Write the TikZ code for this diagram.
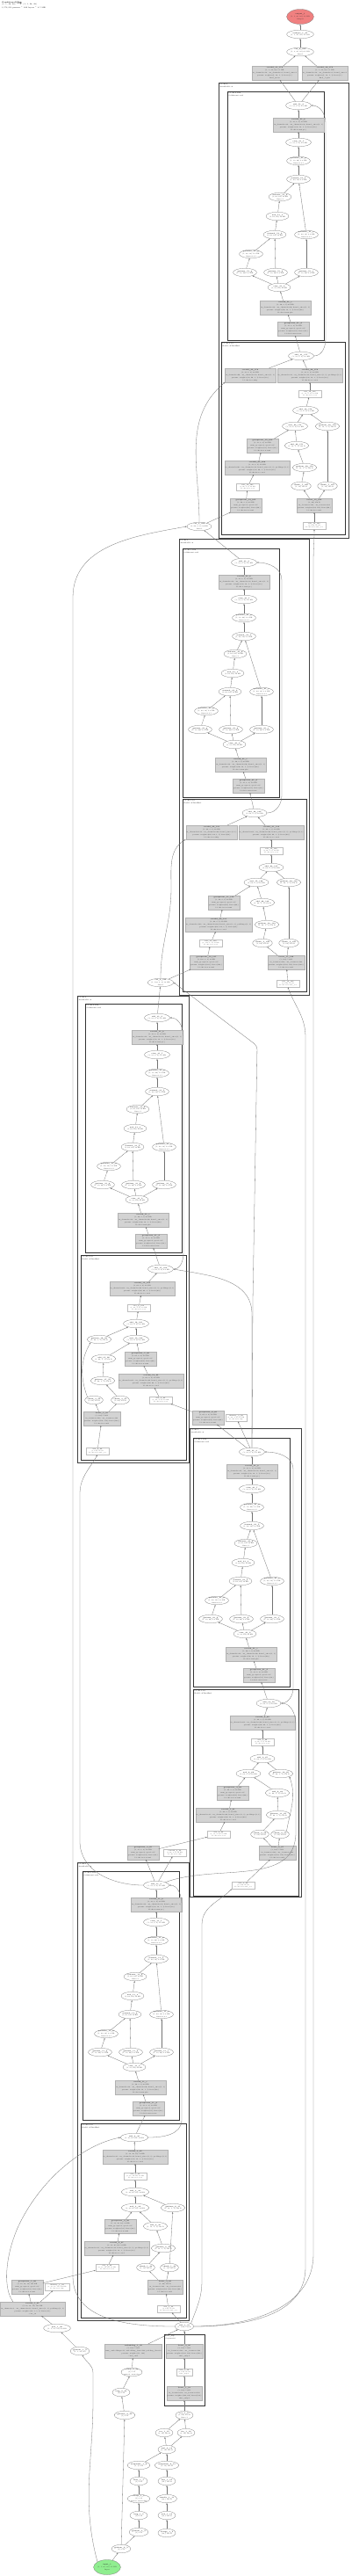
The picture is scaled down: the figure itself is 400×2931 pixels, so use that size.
\documentclass[tikz,border=0pt]{standalone}
\usepackage{fontspec}
\usepackage{amsmath}
\usetikzlibrary{arrows.meta,shapes.geometric,positioning,fit,backgrounds}
\definecolor{outred}{RGB}{240,128,128}
\definecolor{ingreen}{RGB}{144,238,144}
\definecolor{opgray}{RGB}{211,211,211}
\definecolor{edgegray}{RGB}{190,190,190}
\newcommand{\tny}{\fontsize{1.75}{2.6}\selectfont}
\newcommand{\tnyb}{\fontsize{1.7}{2.9}\selectfont}
\newcommand{\lbl}[2]{\textbf{#1}\\#2}
\newcommand{\lbk}[3]{\textbf{#1}\\#2\\#3}
\newcommand{\cvlbl}[5]{\textbf{#1}\\#2\\in\_channels=#3, out\_channels=#4, kernel\_size=(3, 3), padding=(1, 1)\\params: weight=(#4, #3, 3, 3) bias=(#4,)\\#5}
\newcommand{\sklbl}[5]{\textbf{#1}\\#2\\in\_channels=#3, out\_channels=#4, kernel\_size=(1, 1)\\params: weight=(#4, #3, 1, 1) bias=(#4,)\\#5}
\newcommand{\gnlbl}[4]{\textbf{#1}\\#2\\num\_groups=8, eps=1e-05\\params: weight=(#3,) bias=(#3,)\\#4}
\newcommand{\linlbl}[5]{\textbf{#1}\\#2\\in\_features=#3, out\_features=#4\\params: weight=(#4, #3) bias=(#4,)\\#5}

\tikzset{
  ell/.style={ellipse, draw=black!55, fill=white, line width=0.25pt, inner sep=0pt, minimum height=9.5pt, minimum width=20pt, align=center, font=\tny, text=black!85},
  opbox/.style={rectangle, draw=black!30, fill=opgray, line width=0.25pt, inner xsep=0.8pt, inner ysep=1.4pt, align=center, font=\tnyb, text=black!85},
  wbox/.style={rectangle, draw=edgegray, fill=white, line width=0.25pt, inner xsep=3pt, inner ysep=1.2pt, minimum width=26pt, align=center, font=\fontsize{1.6}{2.4}\selectfont, text=black!70},
  conn/.style={-{Stealth[length=2pt,width=1.5pt]}, draw=black!55, line width=0.3pt},
  clus/.style={draw=black!80, line width=0.55pt},
  outer/.style={draw=black!75, line width=1pt},
  clab/.style={anchor=north west, inner sep=0pt, align=left, font=\tny}
}

% self attention cluster: prefix, cluster left, add y, main column x, path, index
\newcommand{\attn}[6]{%
  \draw[clus] (#2,-#3+16) rectangle (#2+110,-#3-267);
  \node[clab] (#1lab) at (#2+1.5,-#3+15) {#5\\SelfAttention2d};
  \node[ell] (#1add) at (#4,-#3) {\lbl{add\_#6\_9}{(1, 32, 8, 8) 8.0 KB}};
  \node[opbox] (#1proj) at (#4,-#3-22) {\sklbl{conv2d\_#6\_8}{(1, 32, 8, 8) 8.0 KB}{32}{32}{#5.proj}};
  \node[ell] (#1view) at (#4,-#3-42) {\lbl{view\_#6\_7}{(1, 32, 8, 8) 8.0 KB}};
  \node[ell] (#1perm) at (#4,-#3-63) {\lbk{permute\_#6\_6}{(1, 32, 64) 8.0 KB}{dims=0,2,1}};
  \node[ell] (#1mm) at (#4,-#3-84) {\lbl{matmul\_#6\_5}{(1, 64, 32) 8.0 KB}};
  \node[ell] (#1soft) at (#2+60,-#3-104) {\lbk{softmax\_#6\_4}{(1, 64, 64) 16 KB}{dim=-1}};
  \node[ell] (#1mul) at (#2+57,-#3-126) {\lbl{mul\_#6\_3}{(1, 64, 64) 16 KB}};
  \node[ell] (#1mmb) at (#2+54,-#3-147) {\lbl{matmul\_#6\_2}{(1, 64, 64) 16 KB}};
  \node[ell] (#1pr) at (#2+90,-#3-147) {\lbk{permute\_#6\_1}{(1, 64, 32) 8.0 KB}{dims=0,2,1}};
  \node[ell] (#1pl) at (#2+27,-#3-169) {\lbk{permute\_#6\_0}{(1, 64, 32) 8.0 KB}{dims=0,2,1}};
  \node[ell] (#1gia) at (#2+20,-#3-190) {\lbl{getitem\_#6\_q}{(1, 32, 64) 8.0 KB}};
  \node[ell] (#1gib) at (#2+55,-#3-190) {\lbl{getitem\_#6\_k}{(1, 32, 64) 8.0 KB}};
  \node[ell] (#1gic) at (#2+90,-#3-190) {\lbl{getitem\_#6\_v}{(1, 32, 64) 8.0 KB}};
  \node[ell] (#1vw) at (#2+59,-#3-207) {\lbl{view\_#6\_b}{(3, 32, 64) 24 KB}};
  \node[opbox] (#1qkv) at (#2+66,-#3-230) {\sklbl{conv2d\_#6\_c}{(1, 96, 8, 8) 24 KB}{32}{96}{#5.qkv}};
  \node[opbox] (#1gn) at (#2+75,-#3-254) {\gnlbl{groupnorm\_#6\_d}{(1, 32, 8, 8) 8.0 KB}{32}{#5.norm}};
  \draw[conn] (#1gn) -- (#1qkv);
  \draw[conn] (#1qkv) -- (#1vw);
  \draw[conn] (#1vw) -- (#1gia);
  \draw[conn] (#1vw) -- (#1gib);
  \draw[conn] (#1vw) -- (#1gic);
  \draw[conn] (#1gia) -- (#1pl);
  \draw[conn] (#1pl) -- (#1mmb);
  \draw[conn] (#1gib) -- (#1mmb);
  \draw[conn] (#1mmb) -- (#1mul);
  \draw[conn] (#1mul) -- (#1soft);
  \draw[conn] (#1soft) -- (#1mm);
  \draw[conn] (#1gic) -- (#1pr);
  \draw[conn] (#1pr) -- (#1mm);
  \draw[conn] (#1mm) -- (#1perm);
  \draw[conn] (#1perm) -- (#1view);
  \draw[conn] (#1view) -- (#1proj);
  \draw[conn] (#1proj) -- (#1add);
}

\begin{document}
\begin{tikzpicture}[x=1pt,y=1pt]
\useasboundingbox (0,0) rectangle (400,-2931);

\node[clab, font=\fontsize{2}{2.6}\selectfont] (title) at (2,-1.5) {\textbf{ConditionalUNet}\\(1, 1, 28, 28) $\rightarrow$ (1, 1, 28, 28)\\1,172,353 params $\cdot$ 249 layers $\cdot$ 4.5 MB};

% output head
\node[ell, fill=outred, minimum width=28pt, minimum height=17pt] (outT) at (342,-19) {\lbk{output\_1}{(1, 1, 28, 28) 3.1 KB}{Output}};
\node[ell] (resh) at (342,-39) {\lbl{reshape\_1\_47}{(1, 1, 28, 28) 3.1 KB}};
\node[ell] (cat6) at (342,-59) {\lbk{cat\_6\_180}{(1, 2, 28, 28) 6.1 KB}{dim=1}};
\node[opbox] (convA) at (313,-83) {\textbf{conv2d\_31\_178}\\(1, 1, 28, 28) 3.1 KB\\in\_channels=32, out\_channels=1, kernel\_size=1\\params: weight=(1, 32, 1, 1) bias=(1,)\\final\_mean};
\node[opbox] (convB) at (370,-83) {\textbf{conv2d\_32\_179}\\(1, 1, 28, 28) 3.1 KB\\in\_channels=32, out\_channels=1, kernel\_size=1\\params: weight=(1, 32, 1, 1) bias=(1,)\\final\_logvar};

% block 4
\draw[outer] (249,-94) rectangle (397,-612);
\node[clab] (oAlab) at (250.5,-95) {blocks.4\\AttnResBlock};
\attn{a1}{259}{120}{340}{blocks.4.attn}{51}
\draw[clus] (252,-389) rectangle (393,-608);
\node[clab] (a2lab) at (253.5,-390) {blocks.4.res\\ResBlockTimeEmb};
\node[ell] (a2add) at (343,-405) {\lbl{add\_31\_177}{(1, 32, 8, 8) 8.0 KB}};
\node[opbox] (a2skip) at (285,-427) {\sklbl{conv2d\_29\_178}{(1, 32, 8, 8) 8.0 KB}{96}{32}{blocks.4.res.skip}};
\node[opbox] (a2cv2) at (353,-427) {\cvlbl{conv2d\_28\_176}{(1, 32, 8, 8) 8.0 KB}{32}{32}{blocks.4.res.conv2}};
\node[wbox] (a2si2) at (353,-448) {\lbk{silu\_16\_175}{(1, 32, 8, 8) 8.0 KB}{blocks.4.res.act2}};
\node[ell] (a2sum) at (348,-467) {\lbl{add\_30\_174}{(1, 32, 8, 8) 8.0 KB}};
\node[ell] (a2mul) at (336,-485) {\lbl{mul\_20\_173}{(1, 32, 8, 8) 8.0 KB}};
\node[ell] (a2gi) at (373,-485) {\lbl{getitem\_30\_172}{(1, 32, 1, 1) 128 B}};
\node[opbox] (a2gn2) at (299,-507) {\gnlbl{groupnorm\_15\_169}{(1, 32, 8, 8) 8.0 KB}{32}{blocks.4.res.norm2}};
\node[ell] (a2sc) at (338,-507) {\lbl{add\_29\_171}{(1, 32, 1, 1) 128 B}};
\node[opbox] (a2cv1) at (293,-532) {\cvlbl{conv2d\_27\_168}{(1, 32, 8, 8) 8.0 KB}{96}{32}{blocks.4.res.conv1}};
\node[ell] (a2gj) at (347,-532) {\lbl{getitem\_29\_170}{(1, 32, 1, 1) 128 B}};
\node[wbox] (a2si1) at (282,-554) {\lbk{silu\_15\_167}{(1, 96, 8, 8) 24 KB}{blocks.4.res.act1}};
\node[ell] (a2cha) at (343,-553) {\lbl{chunk\_7\_166}{(1, 32) 128 B}};
\node[ell] (a2chb) at (373,-553) {\lbl{chunk\_7\_167}{(1, 32) 128 B}};
\node[opbox] (a2gn1) at (280,-575) {\gnlbl{groupnorm\_14\_165}{(1, 96, 8, 8) 24 KB}{96}{blocks.4.res.norm1}};
\node[opbox] (a2lin) at (358,-575) {\linlbl{linear\_15\_164}{(1, 64) 256 B}{128}{64}{blocks.4.res.emb}};
\node[wbox] (a2ts) at (358,-598) {\lbk{silu\_14\_163}{(1, 128) 512 B}{blocks.4.res.emb\_act}};
\node[ell] (cat3) at (227,-599) {\lbk{cat\_3\_162}{(1, 96, 8, 8) 24 KB}{dim=1}};

% block 3
\draw[outer] (204,-613) rectangle (352,-1132);
\node[clab] (oBlab) at (205.5,-614) {blocks.3\\AttnResBlock};
\attn{b1}{208}{640}{278}{blocks.3.attn}{41}
\draw[clus] (208,-909) rectangle (349,-1128);
\node[clab] (b2lab) at (209.5,-910) {blocks.3.res\\ResBlockTimeEmb};
\node[ell] (b2add) at (290,-925) {\lbl{add\_24\_140}{(1, 64, 8, 8) 16 KB}};
\node[opbox] (b2skip) at (241,-947) {\sklbl{conv2d\_22\_141}{(1, 64, 8, 8) 16 KB}{128}{64}{blocks.3.res.skip}};
\node[opbox] (b2cv2) at (309,-947) {\cvlbl{conv2d\_21\_139}{(1, 64, 8, 8) 16 KB}{64}{64}{blocks.3.res.conv2}};
\node[wbox] (b2si2) at (309,-968) {\lbk{silu\_12\_138}{(1, 64, 8, 8) 16 KB}{blocks.3.res.act2}};
\node[ell] (b2sum) at (309,-987) {\lbl{add\_23\_137}{(1, 64, 8, 8) 16 KB}};
\node[ell] (b2mul) at (292,-1004) {\lbl{mul\_15\_136}{(1, 64, 8, 8) 16 KB}};
\node[ell] (b2gi) at (329,-1004) {\lbl{getitem\_24\_135}{(1, 64, 1, 1) 256 B}};
\node[opbox] (b2gn2) at (255,-1027) {\gnlbl{groupnorm\_11\_132}{(1, 64, 8, 8) 16 KB}{64}{blocks.3.res.norm2}};
\node[ell] (b2sc) at (299,-1027) {\lbl{add\_22\_134}{(1, 64, 1, 1) 256 B}};
\node[opbox] (b2cv1) at (249,-1052) {\cvlbl{conv2d\_20\_131}{(1, 64, 8, 8) 16 KB}{128}{64}{blocks.3.res.conv1}};
\node[ell] (b2gj) at (304,-1052) {\lbl{getitem\_23\_133}{(1, 64, 1, 1) 256 B}};
\node[wbox] (b2si1) at (240,-1073) {\lbk{silu\_11\_130}{(1, 128, 8, 8) 32 KB}{blocks.3.res.act1}};
\node[ell] (b2cha) at (299,-1073) {\lbl{chunk\_5\_128}{(1, 64) 256 B}};
\node[ell] (b2chb) at (329,-1073) {\lbl{chunk\_5\_129}{(1, 64) 256 B}};
\node[opbox] (b2gn1) at (235,-1095) {\gnlbl{groupnorm\_10\_127}{(1, 128, 8, 8) 32 KB}{128}{blocks.3.res.norm1}};
\node[opbox] (b2lin) at (326,-1095) {\linlbl{linear\_11\_126}{(1, 128) 512 B}{128}{128}{blocks.3.res.emb}};
\node[wbox] (b2ts) at (328,-1119) {\lbk{silu\_10\_125}{(1, 128) 512 B}{blocks.3.res.emb\_act}};
\node[ell] (cat2) at (183,-1118) {\lbk{cat\_2\_124}{(1, 128, 8, 8) 32 KB}{dim=1}};

% block 2
\draw[outer] (88,-1133) rectangle (215,-1664);
\node[clab] (oClab) at (89.5,-1134) {blocks.2\\AttnResBlock};
\attn{c1}{97}{1158}{179}{blocks.2.attn}{31}
\draw[clus] (92,-1428) rectangle (212,-1661);
\node[clab] (c2lab) at (93.5,-1429) {blocks.2.res\\ResBlockTimeEmb};
\node[ell] (c2add) at (183,-1444) {\lbl{add\_17\_104}{(1, 64, 4, 4) 4.0 KB}};
\node[opbox] (c2cv2) at (162,-1466) {\cvlbl{conv2d\_15\_103}{(1, 64, 4, 4) 4.0 KB}{64}{64}{blocks.2.res.conv2}};
\node[wbox] (c2si2) at (158,-1488) {\lbk{silu\_8\_102}{(1, 64, 4, 4) 4.0 KB}{blocks.2.res.act2}};
\node[ell] (c2sum) at (155,-1506) {\lbl{add\_16\_101}{(1, 64, 4, 4) 4.0 KB}};
\node[ell] (c2gi) at (113,-1524) {\lbl{getitem\_18\_99}{(1, 64, 1, 1) 256 B}};
\node[ell] (c2mul) at (155,-1524) {\lbl{mul\_10\_100}{(1, 64, 4, 4) 4.0 KB}};
\node[ell] (c2sc) at (118,-1546) {\lbl{add\_15\_98}{(1, 64, 1, 1) 256 B}};
\node[opbox] (c2gn2) at (160,-1546) {\gnlbl{groupnorm\_7\_96}{(1, 64, 4, 4) 4.0 KB}{64}{blocks.2.res.norm2}};
\node[ell] (c2gj) at (117,-1571) {\lbl{getitem\_17\_97}{(1, 64, 1, 1) 256 B}};
\node[opbox] (c2cv1) at (172,-1571) {\cvlbl{conv2d\_14\_95}{(1, 64, 4, 4) 4.0 KB}{64}{64}{blocks.2.res.conv1}};
\node[ell] (c2cha) at (107,-1593) {\lbl{chunk\_3\_92}{(1, 64) 256 B}};
\node[ell] (c2chb) at (137,-1593) {\lbl{chunk\_3\_93}{(1, 64) 256 B}};
\node[wbox] (c2si1) at (183,-1593) {\lbk{silu\_7\_94}{(1, 64, 4, 4) 4.0 KB}{blocks.2.res.act1}};
\node[opbox] (c2lin) at (116,-1614) {\linlbl{linear\_7\_91}{(1, 128) 512 B}{128}{128}{blocks.2.res.emb}};
\node[wbox] (c2ts) at (111,-1651) {\lbk{silu\_6\_90}{(1, 128) 512 B}{blocks.2.res.emb\_act}};
\node[opbox] (gnC) at (237,-1613) {\gnlbl{groupnorm\_6\_89}{(1, 64, 4, 4) 4.0 KB}{64}{blocks.2.res.norm1}};
\node[wbox, minimum width=24pt, inner xsep=1.5pt] (upC) at (269,-1613) {\lbk{identity\_3\_88}{(1, 64, 4, 4) 4.0 KB}{blocks.2.res.skip}};

% block 1
\draw[outer] (216,-1625) rectangle (343,-2158);
\node[clab] (oDlab) at (217.5,-1626) {blocks.1\\AttnResBlock};
\attn{d1}{220}{1652}{287}{blocks.1.attn}{21}
\draw[clus] (220,-1922) rectangle (340,-2157);
\node[clab] (d2lab) at (221.5,-1923) {blocks.1.res\\ResBlockTimeEmb};
\node[ell] (d2add) at (306,-1938) {\lbl{add\_10\_70}{(1, 64, 8, 8) 16 KB}};
\node[opbox] (d2cv2) at (299,-1960) {\cvlbl{conv2d\_8\_69}{(1, 64, 8, 8) 16 KB}{64}{64}{blocks.1.res.conv2}};
\node[wbox] (d2si2) at (299,-1982) {\lbk{silu\_5\_68}{(1, 64, 8, 8) 16 KB}{blocks.1.res.act2}};
\node[ell] (d2sum) at (299,-2001) {\lbl{add\_9\_67}{(1, 64, 8, 8) 16 KB}};
\node[ell] (d2mul) at (283,-2018) {\lbl{mul\_6\_66}{(1, 64, 8, 8) 16 KB}};
\node[ell] (d2gi) at (320,-2018) {\lbl{getitem\_12\_65}{(1, 64, 1, 1) 256 B}};
\node[opbox] (d2gn2) at (265,-2040) {\gnlbl{groupnorm\_4\_62}{(1, 64, 8, 8) 16 KB}{64}{blocks.1.res.norm2}};
\node[ell] (d2sc) at (316,-2040) {\lbl{add\_8\_64}{(1, 64, 1, 1) 256 B}};
\node[opbox] (d2cv1) at (260,-2065) {\cvlbl{conv2d\_7\_61}{(1, 64, 8, 8) 16 KB}{32}{64}{blocks.1.res.conv1}};
\node[ell] (d2gj) at (317,-2065) {\lbl{getitem\_11\_63}{(1, 64, 1, 1) 256 B}};
\node[wbox] (d2si1) at (249,-2087) {\lbk{silu\_4\_60}{(1, 32, 8, 8) 8.0 KB}{blocks.1.res.act1}};
\node[ell] (d2cha) at (296,-2087) {\lbl{chunk\_2\_58}{(1, 64) 256 B}};
\node[ell] (d2chb) at (319,-2087) {\lbl{chunk\_2\_59}{(1, 64) 256 B}};
\node[opbox] (d2lin) at (316,-2108) {\linlbl{linear\_5\_57}{(1, 128) 512 B}{128}{128}{blocks.1.res.emb}};
\node[wbox] (d2ts) at (277,-2145) {\lbk{silu\_3\_56}{(1, 128) 512 B}{blocks.1.res.emb\_act}};
\node[opbox] (gnD) at (163,-2108) {\gnlbl{groupnorm\_3\_55}{(1, 32, 8, 8) 8.0 KB}{32}{blocks.1.res.norm1}};
\node[wbox] (upD) at (199,-2108) {\lbk{conv2d\_6\_54}{(1, 64, 8, 8) 16 KB}{blocks.1.res.skip}};

% block 0
\draw[outer] (88,-2119) rectangle (215,-2640);
\node[clab] (oElab) at (89.5,-2120) {blocks.0\\AttnResBlock};
\attn{e1}{94}{2145}{178}{blocks.0.attn}{11}
\draw[clus] (92,-2416) rectangle (212,-2637);
\node[clab] (e2lab) at (93.5,-2417) {blocks.0.res\\ResBlockTimeEmb};
\node[ell] (e2add) at (153,-2432) {\lbl{add\_4\_36}{(1, 32, 16, 16) 32 KB}};
\node[opbox] (e2cv2) at (154,-2454) {\cvlbl{conv2d\_3\_35}{(1, 32, 16, 16) 32 KB}{32}{32}{blocks.0.res.conv2}};
\node[wbox] (e2si2) at (154,-2476) {\lbk{silu\_3\_34}{(1, 32, 16, 16) 32 KB}{blocks.0.res.act2}};
\node[ell] (e2sum) at (154,-2494) {\lbl{add\_3\_33}{(1, 32, 16, 16) 32 KB}};
\node[ell] (e2mul) at (154,-2512) {\lbl{mul\_3\_32}{(1, 32, 16, 16) 32 KB}};
\node[ell] (e2gi) at (197,-2512) {\lbl{getitem\_6\_31}{(1, 32, 1, 1) 128 B}};
\node[opbox] (e2gn2) at (137,-2533) {\gnlbl{groupnorm\_2\_28}{(1, 32, 16, 16) 32 KB}{32}{blocks.0.res.norm2}};
\node[ell] (e2sc) at (177,-2533) {\lbl{add\_2\_30}{(1, 32, 1, 1) 128 B}};
\node[opbox] (e2cv1) at (133,-2558) {\cvlbl{conv2d\_2\_27}{(1, 32, 16, 16) 32 KB}{32}{32}{blocks.0.res.conv1}};
\node[ell] (e2gj) at (186,-2558) {\lbl{getitem\_5\_29}{(1, 32, 1, 1) 128 B}};
\node[wbox] (e2si1) at (122,-2580) {\lbk{silu\_2\_26}{(1, 32, 16, 16) 32 KB}{blocks.0.res.act1}};
\node[ell] (e2cha) at (166,-2580) {\lbl{chunk\_1\_24}{(1, 32) 128 B}};
\node[ell] (e2chb) at (193,-2580) {\lbl{chunk\_1\_25}{(1, 32) 128 B}};
\node[opbox] (e2lin) at (188,-2602) {\linlbl{linear\_3\_23}{(1, 64) 256 B}{128}{64}{blocks.0.res.emb}};
\node[wbox] (e2ts) at (192,-2627) {\lbk{silu\_1\_22}{(1, 128) 512 B}{blocks.0.res.emb\_act}};
\node[opbox] (gnE) at (31,-2602) {\gnlbl{groupnorm\_1\_28}{(1, 32, 32, 32) 128 KB}{32}{blocks.0.res.norm1}};
\node[wbox] (bxE) at (65,-2602) {\lbk{identity\_1\_29}{(1, 32, 32, 32) 128 KB}{blocks.0.res.skip}};
\node[opbox] (convIn) at (37,-2627) {\cvlbl{conv2d\_1\_27}{(1, 32, 32, 32) 128 KB}{1}{32}{conv\_in}};

% inputs and time embedding
\node[ell] (nG) at (65,-2649) {\lbl{pad\_1\_26}{(1, 1, 32, 32) 4.0 KB}};
\node[ell] (addT) at (210,-2647) {\lbl{add\_1\_21}{(1, 128) 512 B}};
\node[ell] (gtA) at (91,-2675) {\lbl{getitem\_1\_2}{(1, 1, 28, 28)}};
\node[opbox] (emb) at (152,-2675) {\textbf{embedding\_1\_25}\\(1, 128) 512 B\\num\_embeddings=11, embedding\_dim=128, padding\_idx=10\\params: weight=(11, 128)\\class\_emb};
\draw[clus] (187,-2656) rectangle (233,-2737);
\node[clab] (tlab) at (188.5,-2657) {time\_mlp\\Sequential};
\node[opbox] (tlin1) at (210,-2675) {\linlbl{linear\_2\_20}{(1, 128) 512 B}{128}{128}{time\_mlp.2}};
\node[wbox, minimum width=18pt, inner xsep=1.5pt] (tsilu) at (210,-2699) {\lbk{silu\_1\_19}{(1, 128) 512 B}{time\_mlp.1}};
\node[opbox] (tlin2) at (210,-2723) {\linlbl{linear\_1\_18}{(1, 128) 512 B}{64}{128}{time\_mlp.0}};
\node[ell] (nF) at (150,-2699) {\lbk{clamp\_2\_24}{(1,) 8 B}{min=0, max=10}};
\node[ell] (nE) at (138,-2722) {\lbl{long\_2\_23}{(1,) 8 B}};
\node[ell] (gtC) at (142,-2748) {\lbl{getitem\_4\_22}{(1,) 8 B}};
\node[ell] (tcat) at (210,-2748) {\lbk{cat\_1\_17}{(1, 64) 256 B}{dim=-1}};
\node[ell] (tcos) at (187,-2768) {\lbl{cos\_1\_15}{(1, 32) 128 B}};
\node[ell] (tsin) at (212,-2768) {\lbl{sin\_1\_16}{(1, 32) 128 B}};
\node[ell] (tmul) at (190,-2787) {\lbl{mul\_2\_14}{(1, 32) 128 B}};
\node[ell] (tA5) at (158,-2805) {\lbl{unsqueeze\_1\_8}{(1, 1) 4 B}};
\node[ell] (tB5) at (190,-2805) {\lbl{unsqueeze\_2\_13}{(1, 32) 128 B}};
\node[ell] (tA4) at (158,-2823) {\lbl{float\_1\_7}{(1,) 4 B}};
\node[ell] (tB4) at (190,-2823) {\lbl{exp\_1\_12}{(32,) 128 B}};
\node[ell] (tA3) at (158,-2843) {\lbk{clamp\_1\_6}{(1,) 8 B}{min=0, max=999}};
\node[ell] (tB3) at (190,-2843) {\lbl{truediv\_1\_11}{(32,) 128 B}};
\node[ell] (tA2) at (158,-2862) {\lbl{long\_1\_5}{(1,) 8 B}};
\node[ell] (tB2) at (190,-2862) {\lbl{mul\_1\_10}{(32,) 128 B}};
\node[ell] (tA1) at (158,-2881) {\lbl{getitem\_3\_4}{(1,) 8 B}};
\node[ell] (tB1) at (190,-2882) {\lbl{arange\_1\_9}{(32,) 128 B}};
\node[ell] (gtB) at (138,-2900) {\lbl{getitem\_2\_3}{(1,) 8 B}};
\node[ell, fill=ingreen, minimum width=27pt, minimum height=17pt] (inp) at (122,-2921) {\lbk{input\_1}{(1, 1, 28, 28) 3.1 KB}{Input}};

% head edges
\draw[conn] (a1add) -- (convA);
\draw[conn] (a1add) -- (convB);
\draw[conn] (convA) -- (cat6);
\draw[conn] (convB) -- (cat6);
\draw[conn] (cat6) -- (resh);
\draw[conn] (resh) -- (outT);

% block 4 edges
\draw[conn] (cat3) -- (a2gn1);
\draw[conn] (cat3.north) to[out=90,in=-140] (a2skip.south west);
\draw[conn] (a2gn1) -- (a2si1);
\draw[conn] (a2si1) -- (a2cv1);
\draw[conn] (a2cv1) -- (a2gn2);
\draw[conn] (a2gn2) -- (a2mul);
\draw[conn] (a2ts) -- (a2lin);
\draw[conn] (a2lin) -- (a2cha);
\draw[conn] (a2lin) -- (a2chb);
\draw[conn] (a2cha) -- (a2gj);
\draw[conn] (a2gj) -- (a2sc);
\draw[conn] (a2sc) -- (a2mul);
\draw[conn] (a2chb) -- (a2gi);
\draw[conn] (a2mul) -- (a2sum);
\draw[conn] (a2gi) -- (a2sum);
\draw[conn] (a2sum) -- (a2si2);
\draw[conn] (a2si2) -- (a2cv2);
\draw[conn] (a2cv2) -- (a2add);
\draw[conn] (a2skip) -- (a2add);
\draw[conn] (a2add) -- (a1gn);
\draw[conn] (a2add.east) to[out=0,in=-90] (371,-385) -- (371,-140) to[out=90,in=0] (a1add.east);
\draw[conn] (b1add) -- (cat3);

% block 3 edges
\draw[conn] (cat2) -- (b2gn1);
\draw[conn] (cat2.north) to[out=90,in=-90] (195,-1010) to[out=90,in=-150] (b2skip.south west);
\draw[conn] (b2gn1) -- (b2si1);
\draw[conn] (b2si1) -- (b2cv1);
\draw[conn] (b2cv1) -- (b2gn2);
\draw[conn] (b2gn2) -- (b2mul);
\draw[conn] (b2ts) -- (b2lin);
\draw[conn] (b2lin) -- (b2cha);
\draw[conn] (b2lin) -- (b2chb);
\draw[conn] (b2cha) -- (b2gj);
\draw[conn] (b2gj) -- (b2sc);
\draw[conn] (b2sc) -- (b2mul);
\draw[conn] (b2chb) -- (b2gi);
\draw[conn] (b2mul) -- (b2sum);
\draw[conn] (b2gi) -- (b2sum);
\draw[conn] (b2sum) -- (b2si2);
\draw[conn] (b2si2) -- (b2cv2);
\draw[conn] (b2cv2) -- (b2add);
\draw[conn] (b2skip) -- (b2add);
\draw[conn] (b2add) -- (b1gn);
\draw[conn] (b2add.east) to[out=0,in=-90] (321,-905) -- (321,-660) to[out=90,in=0] (b1add.east);
\draw[conn] (c1add) -- (cat2);

% block 2 edges
\draw[conn] (gnC) -- (c2si1);
\draw[conn] (c2si1) -- (c2cv1);
\draw[conn] (c2cv1) -- (c2gn2);
\draw[conn] (c2gn2) -- (c2mul);
\draw[conn] (c2ts) -- (c2lin);
\draw[conn] (c2lin) -- (c2cha);
\draw[conn] (c2lin) -- (c2chb);
\draw[conn] (c2cha.north west) to[out=110,in=-120] (c2gi.south west);
\draw[conn] (c2chb) -- (c2gj);
\draw[conn] (c2gj) -- (c2sc);
\draw[conn] (c2sc) -- (c2mul);
\draw[conn] (c2mul) -- (c2sum);
\draw[conn] (c2gi) -- (c2sum);
\draw[conn] (c2sum) -- (c2si2);
\draw[conn] (c2si2) -- (c2cv2);
\draw[conn] (c2cv2) -- (c2add);
\draw[conn] (c2add) -- (c1gn);
\draw[conn] (c2add.east) to[out=0,in=-90] (209,-1425) -- (209,-1180) to[out=90,in=0] (c1add.east);

% block 1 edges
\draw[conn] (gnD) -- (d2si1);
\draw[conn] (d2si1) -- (d2cv1);
\draw[conn] (d2cv1) -- (d2gn2);
\draw[conn] (d2gn2) -- (d2mul);
\draw[conn] (d2ts) -- (d2lin);
\draw[conn] (d2lin) -- (d2cha);
\draw[conn] (d2lin) -- (d2chb);
\draw[conn] (d2cha) -- (d2gj);
\draw[conn] (d2gj) -- (d2sc);
\draw[conn] (d2sc) -- (d2mul);
\draw[conn] (d2chb.north east) to[out=80,in=-70] (d2gi.south east);
\draw[conn] (d2mul) -- (d2sum);
\draw[conn] (d2gi) -- (d2sum);
\draw[conn] (d2sum) -- (d2si2);
\draw[conn] (d2si2) -- (d2cv2);
\draw[conn] (d2cv2) -- (d2add);
\draw[conn] (d2add) -- (d1gn);
\draw[conn] (d2add.east) to[out=0,in=-90] (334,-1920) -- (334,-1672) to[out=90,in=0] (d1add.east);
\draw[conn] (d1add) -- (gnC);
\draw[conn] (d1add) -- (upC);
\draw[conn, rounded corners=4pt] (d1add.north) -- (288,-1480) -- (293,-1190) -- (cat2.east);
\draw[conn] (d1add.north) -- (287,-1495) to[out=90,in=-10] (c2add.east);

% block 0 edges
\draw[conn] (gnE) -- (e2si1);
\draw[conn] (e2si1) -- (e2cv1);
\draw[conn] (e2cv1) -- (e2gn2);
\draw[conn] (e2gn2) -- (e2mul);
\draw[conn] (e2ts) -- (e2lin);
\draw[conn] (e2lin) -- (e2cha);
\draw[conn] (e2lin) -- (e2chb);
\draw[conn] (e2cha) -- (e2gj);
\draw[conn] (e2gj) -- (e2sc);
\draw[conn] (e2sc) -- (e2mul);
\draw[conn] (e2chb) -- (e2gi);
\draw[conn] (e2mul) -- (e2sum);
\draw[conn] (e2gi) -- (e2sum);
\draw[conn] (e2sum) -- (e2si2);
\draw[conn] (e2si2) -- (e2cv2);
\draw[conn] (e2cv2) -- (e2add);
\draw[conn] (e2add) -- (e1gn);
\draw[conn] (e2add.east) to[out=0,in=-90] (207,-2412) -- (207,-2167) to[out=90,in=0] (e1add.east);
\draw[conn] (e1add) -- (gnD);
\draw[conn] (e1add) -- (upD);
\draw[conn] (e1add.north east) to[out=20,in=-90] (337,-2085) -- (337,-1962) to[out=90,in=0] (d2add.east);
\draw[conn] (e1add.west) to[out=180,in=-90] (91,-2095) -- (91,-1700) to[out=90,in=-120] (c2ts.south);
\draw[conn] (convIn) -- (gnE);
\draw[conn] (convIn) -- (bxE);
\draw[conn] (convIn.160) .. controls (4,-2605) and (5,-2570) .. (20,-2535) .. controls (45,-2480) and (95,-2440) .. (e2add.west);

% time embedding edges
\draw[conn] (addT) -- (e2ts);
\draw[conn] (addT.north east) to[out=70,in=-90] (230,-2595) -- (230,-2190) to[out=90,in=-135] (d2ts.south west);
\draw[conn] (addT.east) to[out=0,in=-90] (348,-2580) -- (348,-1180) to[out=90,in=-70] (b2ts.south);
\draw[conn] (addT.east) to[out=0,in=-90] (357,-2565) -- (357,-640) to[out=90,in=-90] (a2ts.south);
\draw[conn] (addT.west) to[out=180,in=-90] (83,-2590) -- (83,-680) to[out=90,in=190] (cat3.west);

% input edges
\draw[conn] (inp.north west) to[out=105,in=-90] (106,-2730) -- (106,-2700) to[out=90,in=-60] (gtA);
\draw[conn] (gtA) -- (nG);
\draw[conn] (nG) -- (convIn);
\draw[conn] (inp) -- (gtB);
\draw[conn] (gtB) -- (tA1);
\draw[conn] (gtB) -- (gtC);
\draw[conn] (gtC) -- (nE);
\draw[conn] (nE) -- (nF);
\draw[conn] (nF) -- (emb);
\draw[conn] (emb) -- (addT);
\draw[conn] (tA1) -- (tA2);
\draw[conn] (tA2) -- (tA3);
\draw[conn] (tA3) -- (tA4);
\draw[conn] (tA4) -- (tA5);
\draw[conn] (tA5) -- (tmul);
\draw[conn] (tB1) -- (tB2);
\draw[conn] (tB2) -- (tB3);
\draw[conn] (tB3) -- (tB4);
\draw[conn] (tB4) -- (tB5);
\draw[conn] (tB5) -- (tmul);
\draw[conn] (tmul) -- (tcos);
\draw[conn] (tmul) -- (tsin);
\draw[conn] (tcos) -- (tcat);
\draw[conn] (tsin) -- (tcat);
\draw[conn] (tcat) -- (tlin2);
\draw[conn] (tlin2) -- (tsilu);
\draw[conn] (tsilu) -- (tlin1);
\draw[conn] (tlin1) -- (addT);

\end{tikzpicture}
\end{document}
